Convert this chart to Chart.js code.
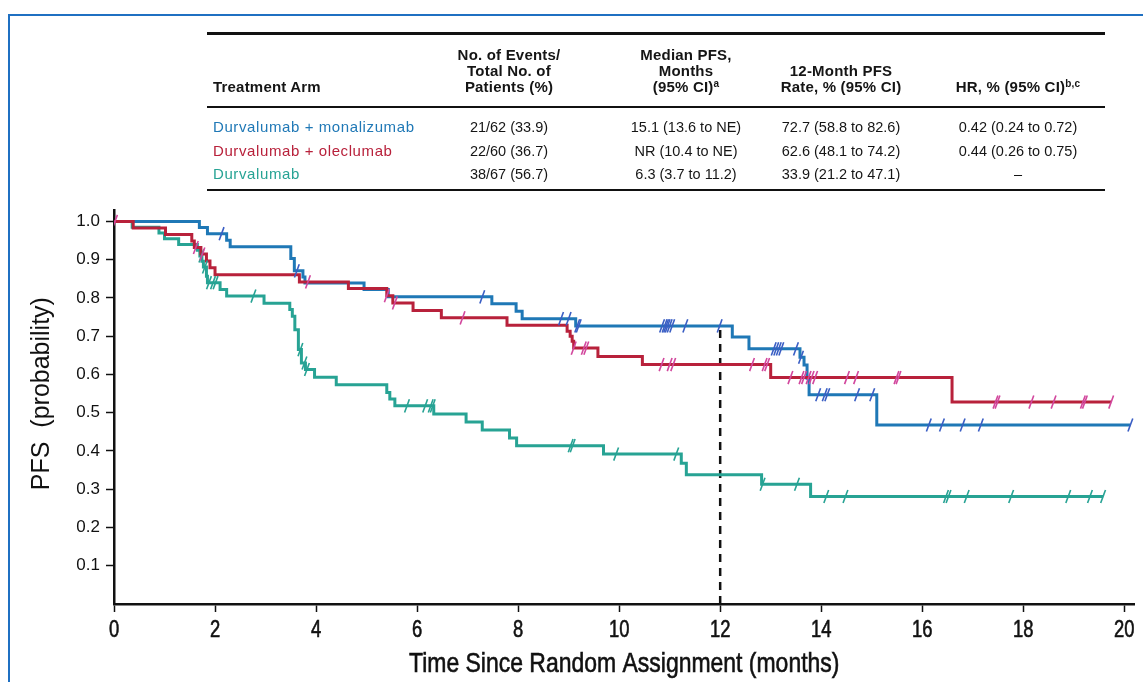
<!DOCTYPE html>
<html>
<head>
<meta charset="utf-8">
<title>PFS by treatment arm</title>
<script src="https://cdn.jsdelivr.net/npm/chart.js@4.4.1/dist/chart.umd.min.js"></script>
<style>
    html, body { margin: 0; padding: 0; background: #fff; }
    body { width: 1143px; height: 682px; position: relative; overflow: hidden; font-family: 'Liberation Sans', Arial, sans-serif; color: #151515; }
    #frame { position: absolute; left: 8px; top: 14px; width: 1200px; height: 700px; border-left: 2px solid #1f70c2; border-top: 2px solid #1f70c2; }
    #growth { position: absolute; left: 0; top: 0; }
    .rule { position: absolute; left: 207px; width: 898px; background: #111; }
    .head { position: absolute; bottom: 0; font-weight: bold; font-size: 15px; line-height: 16px; letter-spacing: 0.2px; white-space: nowrap; }
    .head.center { width: 240px; margin-left: -120px; text-align: center; }
    .cell { position: absolute; width: 240px; margin-left: -120px; text-align: center; white-space: nowrap; font-size: 14.5px; line-height: 20px; }
    .arm { position: absolute; left: 213px; white-space: nowrap; font-size: 15px; line-height: 20px; letter-spacing: 0.6px; }
    sup { font-size: 10px; line-height: 0; vertical-align: 5px; }
    #headBox { position: absolute; left: 0; top: 33px; width: 1143px; height: 62px; }
</style>
</head>
<body>
<div id="frame"></div>
<canvas id="growth" width="1143" height="682"></canvas>
<div id="tableBox"></div>

<script>
// --- Table data ---
const armNames = ['Durvalumab + monalizumab', 'Durvalumab + oleclumab', 'Durvalumab'];
const armColors = ['#1f78b6', '#b8213b', '#27a394'];
const censorColors = ['#3a5ec4', '#d2479d', '#27a394'];
const headers = ['Treatment Arm', 'No. of Events/<br>Total No. of<br>Patients (%)', 'Median PFS,<br>Months<br>(95% CI)<sup>a</sup>', '12-Month PFS<br>Rate, % (95% CI)', 'HR, % (95% CI)<sup>b,c</sup>'];
const eventsCol = ['21/62 (33.9)', '22/60 (36.7)', '38/67 (56.7)'];
const medianCol = ['15.1 (13.6 to NE)', 'NR (10.4 to NE)', '6.3 (3.7 to 11.2)'];
const rate12Col = ['72.7 (58.8 to 82.6)', '62.6 (48.1 to 74.2)', '33.9 (21.2 to 47.1)'];
const hrCol = ['0.42 (0.24 to 0.72)', '0.44 (0.26 to 0.75)', '\u2013'];

// --- Curve data (months, PFS probability after each event) ---
const monaTimes = [0, 1.69, 1.85, 2.23, 2.30, 3.50, 3.57, 3.74, 3.78, 4.95, 5.43, 7.48, 7.96, 8.08, 9.14, 12.24, 12.57, 13.58, 13.66, 13.72, 13.76, 15.10, 20.12];
const monaSurv  = [1, 0.984, 0.968, 0.951, 0.934, 0.903, 0.871, 0.855, 0.839, 0.822, 0.803, 0.785, 0.765, 0.746, 0.727, 0.698, 0.667, 0.645, 0.625, 0.590, 0.547, 0.468, 0.468];
const monaCensor = [2.13, 3.62, 7.29, 8.85, 9.0, 9.17, 9.2, 10.85, 10.9, 10.93, 10.96, 11.0, 11.05, 11.31, 11.99, 13.06, 13.11, 13.16, 13.21, 13.5, 13.6, 13.94, 14.07, 14.12, 14.71, 15.01, 16.13, 16.39, 16.8, 17.16, 20.12];

const oleTimes = [0, 0.38, 1.02, 1.54, 1.59, 1.72, 1.83, 1.90, 2.00, 3.67, 4.64, 5.40, 5.52, 5.92, 6.48, 7.78, 8.97, 9.03, 9.07, 9.10, 9.58, 10.46, 13.00, 16.59, 19.74];
const oleSurv  = [1, 0.983, 0.966, 0.949, 0.932, 0.915, 0.897, 0.879, 0.861, 0.842, 0.825, 0.806, 0.787, 0.767, 0.748, 0.729, 0.713, 0.700, 0.687, 0.669, 0.647, 0.626, 0.592, 0.528, 0.528];
const oleCensor = [0.02, 1.62, 1.75, 3.84, 5.40, 5.56, 6.9, 9.1, 9.3, 9.35, 10.84, 11.0, 11.07, 12.63, 12.88, 12.93, 13.39, 13.61, 13.66, 13.75, 13.81, 13.88, 14.51, 14.69, 15.49, 15.53, 17.45, 17.49, 18.16, 18.6, 19.18, 19.22, 19.74];

const durvaTimes = [0, 0.36, 0.89, 1.00, 1.28, 1.65, 1.70, 1.74, 1.77, 1.83, 1.85, 2.10, 2.23, 2.97, 3.48, 3.53, 3.58, 3.65, 3.71, 3.79, 3.97, 4.40, 5.40, 5.46, 5.56, 6.33, 6.97, 7.29, 7.83, 7.97, 9.69, 11.23, 11.33, 12.82, 13.79, 19.58];
const durvaSurv  = [1, 0.985, 0.970, 0.955, 0.940, 0.925, 0.910, 0.896, 0.881, 0.857, 0.840, 0.822, 0.805, 0.786, 0.770, 0.752, 0.717, 0.665, 0.630, 0.613, 0.593, 0.573, 0.553, 0.536, 0.518, 0.497, 0.476, 0.455, 0.434, 0.414, 0.392, 0.368, 0.338, 0.313, 0.281, 0.281];
const durvaCensor = [1.73, 1.80, 1.88, 1.96, 2.01, 2.76, 3.69, 3.77, 3.82, 5.8, 6.16, 6.27, 6.31, 9.04, 9.08, 9.94, 11.13, 12.84, 13.52, 14.1, 14.48, 16.47, 16.52, 16.88, 17.76, 18.89, 19.32, 19.58];

// --- Axes ---
const xTicks = [0, 2, 4, 6, 8, 10, 12, 14, 16, 18, 20];
const yTicks = [0.1, 0.2, 0.3, 0.4, 0.5, 0.6, 0.7, 0.8, 0.9, 1.0];
const xTitle = 'Time Since Random Assignment (months)';
const yTitle = 'PFS  (probability)';
const xMax = 20.2;
const yMax = 1.03;
const landmarkMonth = 12;
const landmarkRate = 0.727;

const regular = "'Liberation Sans', Arial, sans-serif";

// --- Table ---
function buildTable() {
    const box = document.getElementById('tableBox');
    let html = '';
    html += '<div class="rule" style="top:32px;height:2.5px"></div>';
    html += '<div class="rule" style="top:106px;height:2px"></div>';
    html += '<div class="rule" style="top:188.5px;height:2.5px"></div>';

    const centers = [509, 686, 841, 1018];
    html += '<div id="headBox">';
    html += '<div class="head" style="left:213px">' + headers[0] + '</div>';
    for (let c = 0; c < centers.length; c++) {
        html += '<div class="head center" style="left:' + centers[c] + 'px">' + headers[c + 1] + '</div>';
    }
    html += '</div>';

    const rowTops = [117, 140.5, 164];
    for (let r = 0; r < armNames.length; r++) {
        const top = rowTops[r];
        html += '<div class="arm" style="top:' + top + 'px;color:' + armColors[r] + '">' + armNames[r] + '</div>';
        const cols = [eventsCol[r], medianCol[r], rate12Col[r], hrCol[r]];
        for (let c = 0; c < cols.length; c++) {
            html += '<div class="cell" style="top:' + top + 'px;left:' + centers[c] + 'px">' + cols[c] + '</div>';
        }
    }
    box.innerHTML = html;
}
buildTable();

// --- Chart helpers ---
function survAt(times, surv, t) {
    let s = surv[0];
    for (let i = 0; i < times.length; i++) {
        if (times[i] <= t) s = surv[i];
    }
    return s;
}

function curveData(times, surv) {
    return times.map((t, i) => ({ x: t, y: surv[i] }));
}

function censorData(times, surv, censor) {
    return censor.map(t => ({ x: t, y: survAt(times, surv, t) }));
}

function censorSet(data, color) {
    return {
        data: data,
        showLine: false,
        pointStyle: 'line',
        rotation: 110,
        pointRadius: 7,
        pointBorderColor: color,
        pointBorderWidth: 1.6,
        borderColor: color
    };
}

function lineSet(data, color) {
    return {
        data: data,
        stepped: 'before',
        borderColor: color,
        borderWidth: 3,
        pointRadius: 0,
        fill: false
    };
}

const curves = [
    [monaTimes, monaSurv, monaCensor],
    [oleTimes, oleSurv, oleCensor],
    [durvaTimes, durvaSurv, durvaCensor]
];

const datasets = [];
curves.forEach((c, i) => datasets.push(censorSet(censorData(c[0], c[1], c[2]), censorColors[i])));
datasets.push(lineSet(curveData(oleTimes, oleSurv), armColors[1]));
datasets.push(lineSet(curveData(durvaTimes, durvaSurv), armColors[2]));
datasets.push(lineSet(curveData(monaTimes, monaSurv), armColors[0]));
datasets.push({
    data: [{ x: landmarkMonth, y: 0 }, { x: landmarkMonth, y: landmarkRate }],
    borderColor: '#111',
    borderWidth: 2.5,
    borderDash: [8, 6],
    pointRadius: 0
});

// Condensed (Helvetica Condensed look) x labels and titles: squeeze regular text horizontally
function squeezeText(ctx, text, x, y, sx) {
    ctx.save();
    ctx.translate(x, y);
    ctx.scale(sx, 1);
    ctx.fillText(text, 0, 0);
    ctx.strokeText(text, 0, 0);
    ctx.restore();
}

const condensedLabels = {
    id: 'condensedLabels',
    afterDraw(chart) {
        const { ctx, scales: { x, y } } = chart;
        ctx.save();
        ctx.fillStyle = '#111';
        ctx.strokeStyle = '#111';
        ctx.lineWidth = 0.6;
        ctx.textAlign = 'center';
        ctx.textBaseline = 'middle';
        ctx.font = '23px ' + regular;
        xTicks.forEach(v => squeezeText(ctx, String(v), x.getPixelForValue(v), x.top + 27, 0.8));
        ctx.font = '28px ' + regular;
        squeezeText(ctx, xTitle, (x.left + x.right) / 2, x.top + 60, 0.82);

        // y title, rotated
        ctx.font = '25px ' + regular;
        ctx.translate(42, y.getPixelForValue(0.55));
        ctx.rotate(-Math.PI / 2);
        ctx.fillText(yTitle, 0, 0);
        ctx.restore();
    }
};

const ctx = document.getElementById('growth').getContext('2d');

new Chart(ctx, {
    type: 'line',
    data: { datasets: datasets },
    plugins: [condensedLabels],
    options: {
        responsive: false,
        animation: false,
        devicePixelRatio: 1,
        layout: { padding: { top: 210, left: 0, right: 0, bottom: 0 } },
        plugins: {
            legend: { display: false },
            tooltip: { enabled: false }
        },
        scales: {
            x: {
                type: 'linear',
                min: 0,
                max: xMax,
                afterBuildTicks: scale => { scale.ticks = xTicks.map(v => ({ value: v })); },
                afterFit: scale => { scale.height = 78; },
                ticks: { display: false },
                grid: { display: true, drawOnChartArea: false, drawTicks: true, tickLength: 8, tickColor: '#111', tickWidth: 1.5 },
                border: { display: true, color: '#111', width: 2.5 },
                title: { display: false }
            },
            y: {
                type: 'linear',
                min: 0,
                max: yMax,
                afterBuildTicks: scale => { scale.ticks = yTicks.map(v => ({ value: v })); },
                afterFit: scale => { scale.width = 114; },
                ticks: {
                    padding: 6,
                    color: '#111',
                    font: { family: regular, size: 17 },
                    callback: v => Number(v).toFixed(1)
                },
                grid: { display: true, drawOnChartArea: false, drawTicks: true, tickLength: 8, tickColor: '#111', tickWidth: 1.5 },
                border: { display: true, color: '#111', width: 2.5 },
                title: { display: false }
            }
        }
    }
});
</script>
</body>
</html>
